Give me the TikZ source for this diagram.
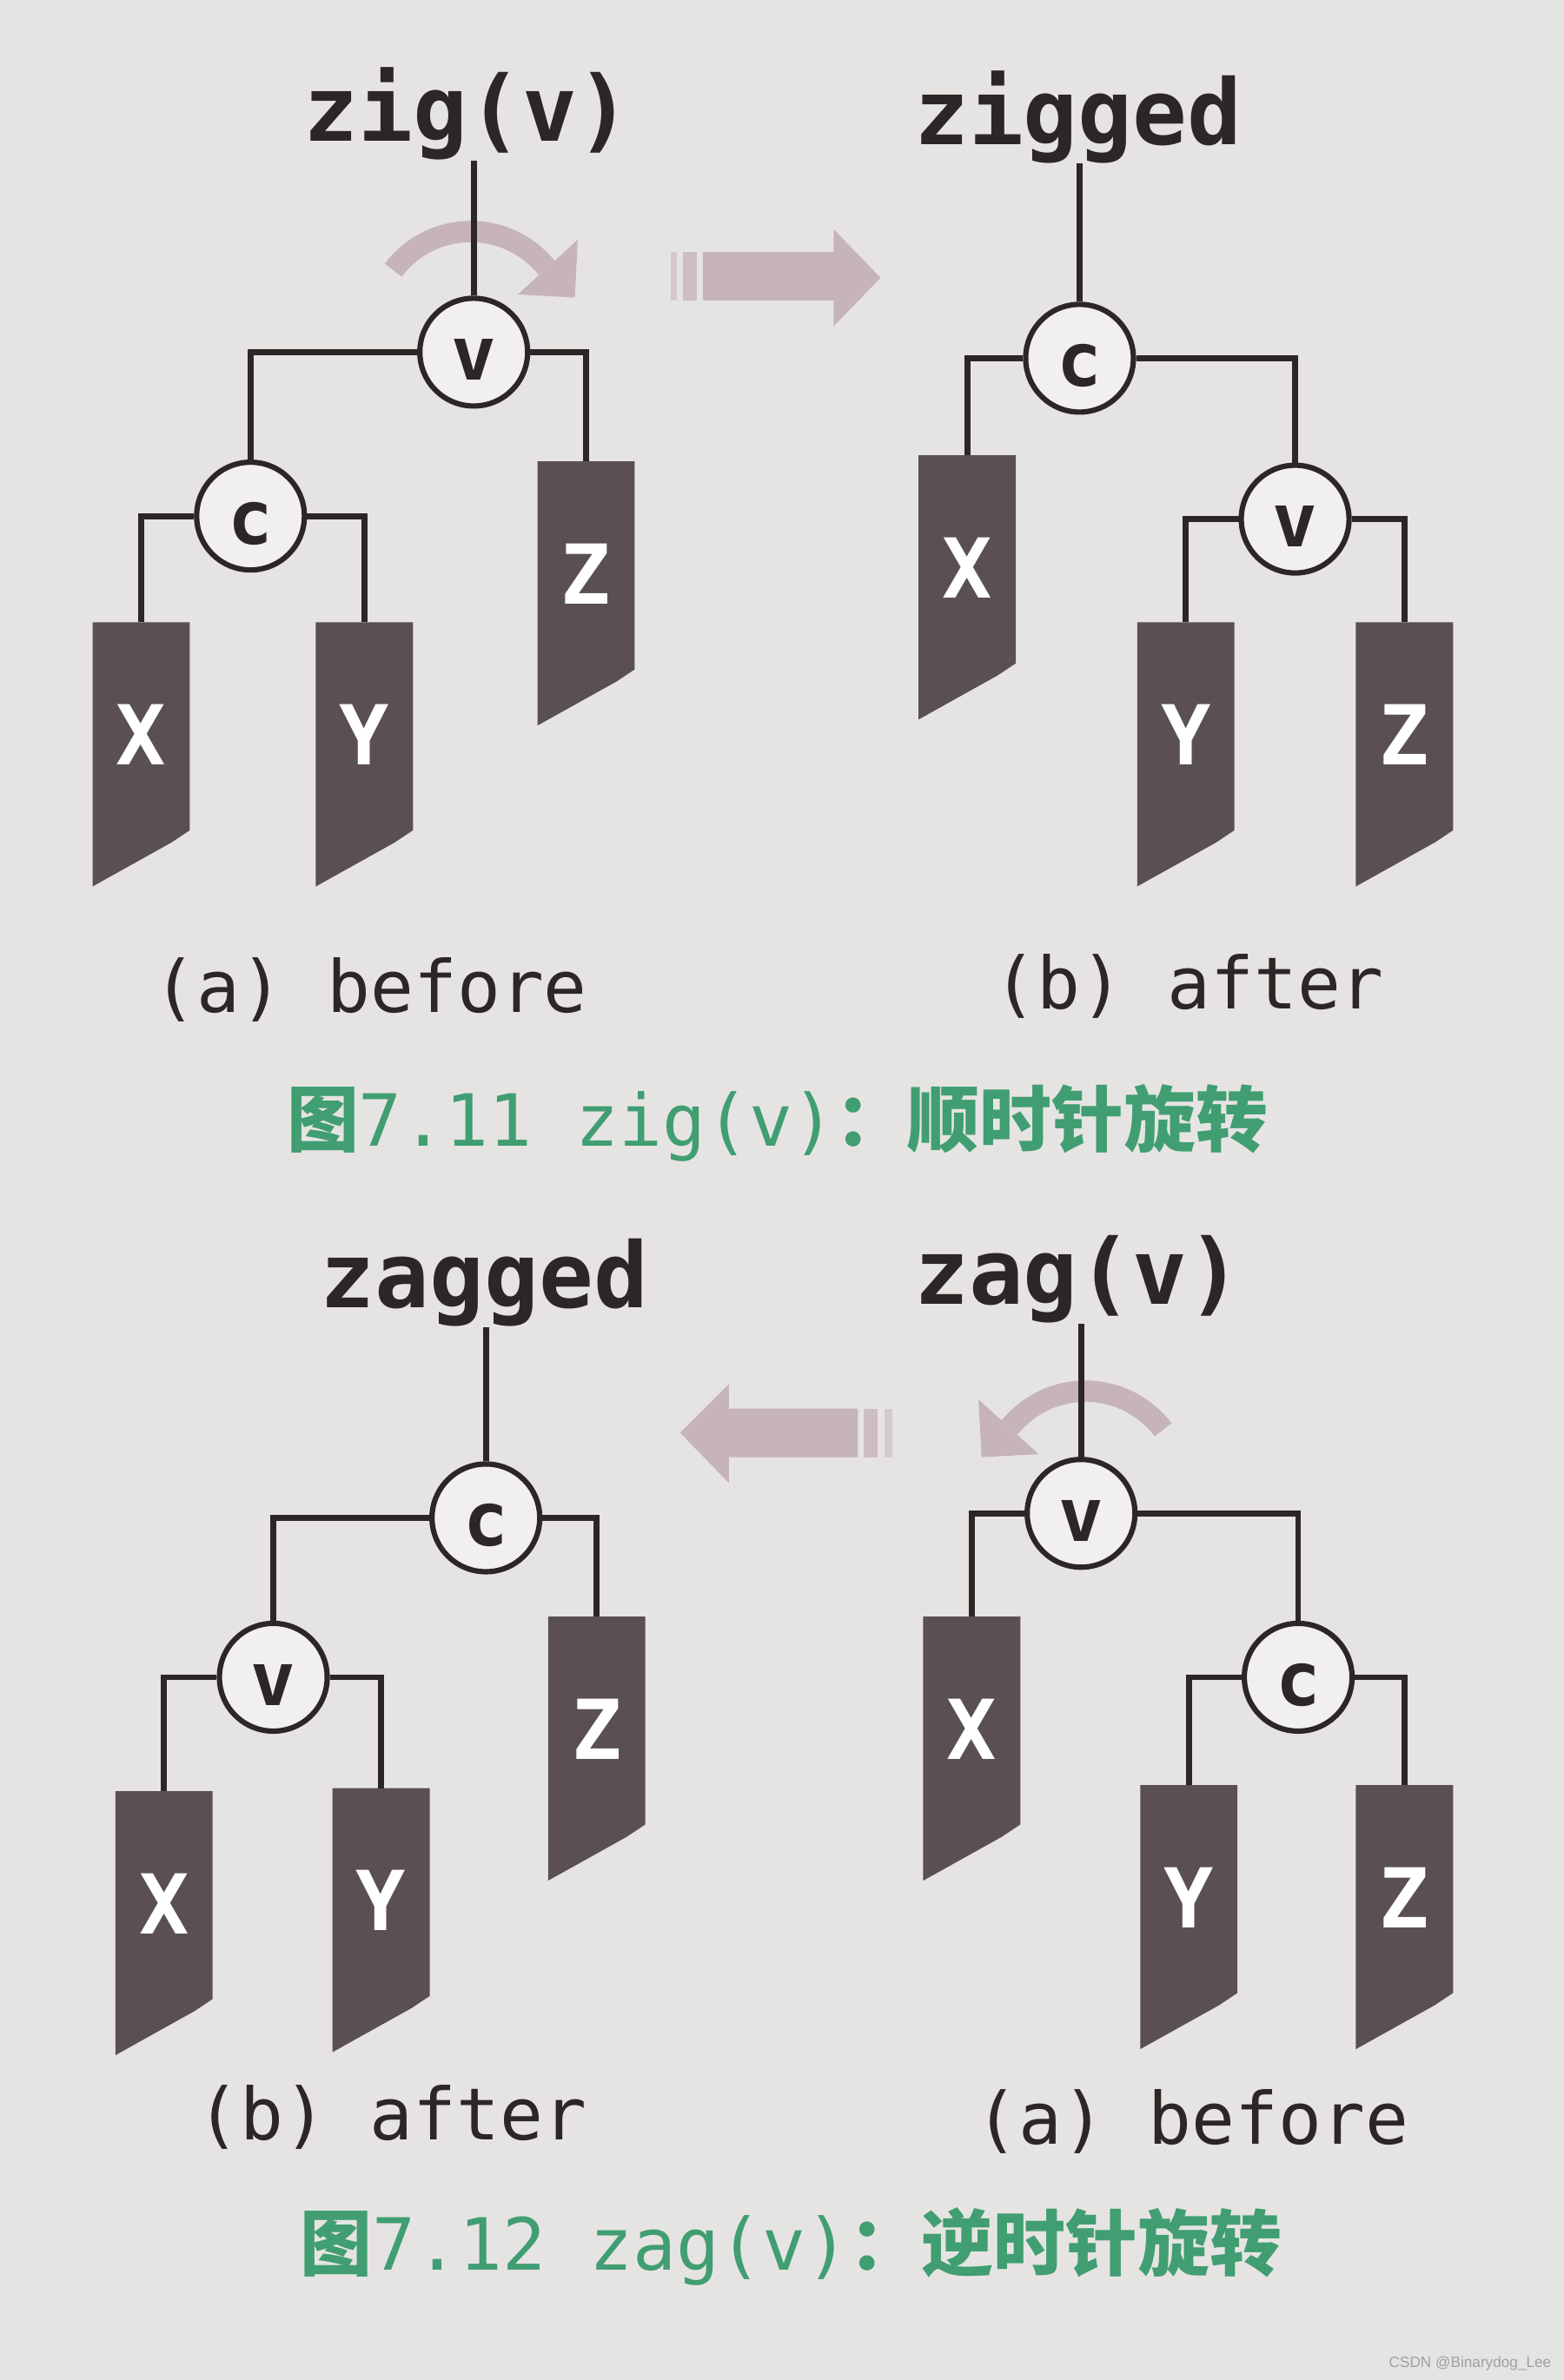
\documentclass[tikz,border=0pt]{standalone}
\usepackage{fontspec}
\setmainfont{DejaVu Sans}
\setmonofont{DejaVu Sans Mono}
\newfontfamily\cjk{Noto Sans CJK SC}
\newfontfamily\wmfont{Liberation Sans}
\definecolor{bgcol}{RGB}{230,228,226}
\definecolor{ink}{RGB}{45,38,38}
\definecolor{nodefill}{RGB}{241,239,239}
\definecolor{treecol}{RGB}{90,80,82}
\definecolor{arrcol}{RGB}{198,180,186}
\definecolor{capgreen}{RGB}{64,158,114}
\definecolor{wmgray}{RGB}{160,160,160}
\tikzset{
  edge/.style={draw=ink, line width=2.2pt},
  tnode/.style={circle, draw=ink, line width=2pt, fill=nodefill, minimum size=1.42cm, inner sep=0pt,
    text height=21pt, text depth=0pt, text=ink, font=\ttfamily\bfseries\fontsize{28}{28}\selectfont},
  treelabel/.style={text=white, inner sep=0pt, font=\ttfamily\bfseries\fontsize{31}{31}\selectfont},
  treefill/.style={fill=treecol},
  title/.style={inner sep=0pt, text=ink, font=\ttfamily\bfseries\fontsize{34}{34}\selectfont},
  sublabel/.style={inner sep=0pt, text=ink, font=\ttfamily\fontsize{27}{27}\selectfont},
  caption/.style={inner sep=0pt, text=capgreen, font=\fontsize{27}{27}\selectfont},
  rotband/.style={draw=arrcol, line width=8pt},
}
\newcommand{\mysubtree}[4]{%
  \fill[treefill] (#2-32,#3) -- (#2+32,#3) -- (#2+32,#3+137) -- (#2+20,#3+145) -- (#2-32,#3+174) -- cycle;
  \coordinate (#1) at (#2,#3);
  \node[treelabel] (#1-l) at (#2,#3+74) {#4};
}
\begin{document}
\begin{tikzpicture}[x=0.02cm, y=-0.02cm]
\fill[bgcol] (0,0) rectangle (1030,1568);
\useasboundingbox (0,0) rectangle (1030,1568);

% ---------------- Figure 7.11 ----------------
% rotation arrow (clockwise)
\draw[rotband] (259,178) arc[start angle=-143, end angle=-38.7, radius=64];
\fill[arrcol] (380.5,158) -- (378.6,196) -- (341,194) -- cycle;
% transition arrow (right)
\fill[arrcol!55!bgcol] (442,166) rectangle (446,198);
\fill[arrcol!80!bgcol] (450,166) rectangle (459,198);
\fill[arrcol] (463,166) -- (549,166) -- (549,151) -- (580,183) -- (549,215) -- (549,198) -- (463,198) -- cycle;

\node[title] (t1) at (308,75) {zig(v)};
\node[title] (t2) at (710,77) {zigged};

% (a) before
\node[tnode] (va) at (312,232) {v};
\node[tnode] (ca) at (165,340) {c};
\mysubtree{Xa}{93}{410}{X}
\mysubtree{Ya}{240}{410}{Y}
\mysubtree{Za}{386}{304}{Z}
\draw[edge] (va) -- (va |- t1.south);
\draw[edge] (va.west) -| (ca.north);
\draw[edge] (va.east) -| (Za);
\draw[edge] (ca.west) -| (Xa);
\draw[edge] (ca.east) -| (Ya);

% (b) after
\node[tnode] (cb) at (711,236) {c};
\node[tnode] (vb) at (853,342) {v};
\mysubtree{Xb}{637}{300}{X}
\mysubtree{Yb}{781}{410}{Y}
\mysubtree{Zb}{925}{410}{Z}
\draw[edge] (cb) -- (cb |- t2.south);
\draw[edge] (cb.west) -| (Xb);
\draw[edge] (cb.east) -| (vb.north);
\draw[edge] (vb.west) -| (Yb);
\draw[edge] (vb.east) -| (Zb);

\node[sublabel] (la) at (244,652) {(a) before};
\node[sublabel] (lb) at (783,650) {(b) after};
\node[caption] (cap1) at (512,740) {{\cjk\bfseries 图}{\ttfamily 7.11 zig(v)}{\cjk\bfseries ：顺时针旋转}};

% ---------------- Figure 7.12 ----------------
% rotation arrow (counter-clockwise)
\draw[rotband] (766,942) arc[start angle=-37, end angle=-141.3, radius=64];
\fill[arrcol] (644.5,922) -- (646.4,960) -- (684,958) -- cycle;
% transition arrow (left)
\fill[arrcol!80!bgcol] (569,928) rectangle (578,960);
\fill[arrcol!55!bgcol] (582.5,928) rectangle (587.5,960);
\fill[arrcol] (565,928) -- (480,928) -- (480,912) -- (448,944) -- (480,977) -- (480,960) -- (565,960) -- cycle;

\node[title] (t3) at (319,845) {zagged};
\node[title] (t4) at (710,843) {zag(v)};

% (b) after
\node[tnode] (cc) at (320,1000) {c};
\node[tnode] (vc) at (180,1105) {v};
\mysubtree{Xc}{108}{1180}{X}
\mysubtree{Yc}{251}{1178}{Y}
\mysubtree{Zc}{393}{1065}{Z}
\draw[edge] (cc) -- (cc |- t3.south);
\draw[edge] (cc.west) -| (vc.north);
\draw[edge] (cc.east) -| (Zc);
\draw[edge] (vc.west) -| (Xc);
\draw[edge] (vc.east) -| (Yc);

% (a) before
\node[tnode] (vd) at (712,997) {v};
\node[tnode] (cd) at (855,1105) {c};
\mysubtree{Xd}{640}{1065}{X}
\mysubtree{Yd}{783}{1176}{Y}
\mysubtree{Zd}{925}{1176}{Z}
\draw[edge] (vd) -- (vd |- t4.south);
\draw[edge] (vd.west) -| (Xd);
\draw[edge] (vd.east) -| (cd.north);
\draw[edge] (cd.west) -| (Yd);
\draw[edge] (cd.east) -| (Zd);

\node[sublabel] (lc) at (258,1395) {(b) after};
\node[sublabel] (ld) at (785,1398) {(a) before};
\node[caption] (cap2) at (521,1480) {{\cjk\bfseries 图}{\ttfamily 7.12 zag(v)}{\cjk\bfseries ：逆时针旋转}};

\node[anchor=east, inner sep=0pt, text=wmgray, font=\wmfont\fontsize{5.6}{5.6}\selectfont] (wm) at (1022,1557) {CSDN @Binarydog\_Lee};
\end{tikzpicture}
\end{document}
